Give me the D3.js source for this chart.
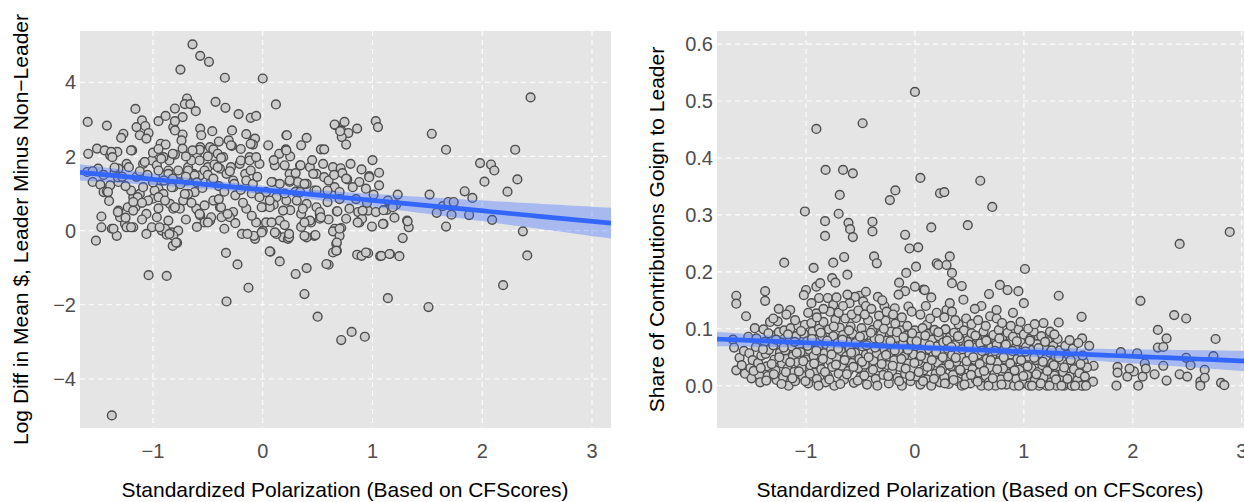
<!DOCTYPE html>
<html><head><meta charset="utf-8">
<script src="https://cdn.jsdelivr.net/npm/d3@7"></script>
<style>
body{margin:0;background:#fff;}
svg text{font-family:"Liberation Sans",Arial,Helvetica,sans-serif;}
</style>
</head><body>
<svg id="chart" width="1244" height="502"></svg>
<script>
// ---------- DATA ----------
const leftXTicks = [-1, 0, 1, 2, 3];
const leftYTicks = [-4, -2, 0, 2, 4];
const rightXTicks = [-1, 0, 1, 2, 3];
const rightYTicks = [0, 0.1, 0.2, 0.3, 0.4, 0.5, 0.6];
const leftXDomain = [-1.665, 3.173];
const leftYDomain = [-5.32, 5.38];
const rightXDomain = [-1.817, 3.03];
const rightYDomain = [-0.0743, 0.623];
// linear fits: [intercept, slope]
const leftFit = [1.099, -0.283];
const rightFit = [0.0675, -0.00796];
const xTitle = "Standardized Polarization (Based on CFScores)";
const leftYTitle = "Log Diff in Mean $, Leader Minus Non\u2212Leader";
const rightYTitle = "Share of Contributions Goign to Leader";

const leftPoints = [
[-1.595,2.93],[-1.59,2.07],[-1.42,2.83],[-1.16,3.28],[-1.27,2.61],[-1.29,2.5],[-1.15,2.79],[-1.10,2.97],[-1.07,2.82],[-1.04,2.63],[-1.12,2.57],[-1.06,2.48],[-0.95,2.95],[-0.885,3.09],[-0.80,3.29],[-0.75,4.34],[-0.73,3.06],[-0.69,3.56],[-0.71,3.41],[-0.66,3.41],[-0.61,3.22],[-0.64,5.02],[-0.57,4.71],[-0.49,4.55],[-0.345,4.12],[0.0,4.1],[-0.43,3.47],[-0.34,3.31],[-0.22,3.14],[-0.11,3.04],[-0.06,3.09],[0.12,3.40],
[-0.815,2.79],[-0.73,2.59],[-0.74,2.43],[-0.73,2.21],[-0.93,2.34],[-0.885,2.32],[-0.80,2.05],[-0.85,1.89],[-0.57,2.75],[-0.56,2.57],[-0.46,2.68],[-0.57,2.25],[-0.48,2.25],[-0.45,2.19],[-0.58,2.16],[-0.60,1.98],[-0.41,2.07],[-0.36,1.98],[-0.31,2.43],[-0.28,2.28],[-0.28,2.70],[-0.09,2.43],[-0.07,2.48],[-0.09,2.32],[0.15,2.07],[0.215,2.57],[0.21,2.19],[0.40,2.50],[0.53,2.19],[0.56,2.19],
[-1.51,2.21],[-1.44,2.16],[-1.37,2.10],[-1.325,2.12],[-1.39,2.03],[-1.19,2.16],[-1.24,1.80],[-1.22,1.71],[-1.315,1.67],[-1.50,1.67],[-1.60,1.58],[-1.55,1.31],[-1.48,1.24],[-1.45,1.04],[-1.42,1.06],[-1.39,1.22],[-1.315,1.31],[-1.09,1.80],[-1.01,1.89],[-0.965,1.76],[-0.905,1.98],[-0.86,1.62],[-0.905,1.49],[-0.755,1.53],[-0.68,1.71],[-0.63,1.53],[-0.57,1.49],[-0.50,1.71],[-0.44,1.78],[-0.39,1.67],[-0.33,1.53],[-0.27,1.35],[-0.21,1.80],[-0.16,1.53],[-0.12,1.98],[-0.03,1.80],[-0.15,1.35],[-0.09,1.26],[0.11,1.76],[0.20,1.76],[0.245,1.53],[0.34,1.76],[0.43,1.71],[0.49,1.53],[0.56,1.44],[0.09,1.31],[0.155,1.26],[0.245,1.31],[0.32,1.31],[0.40,1.26],[0.03,1.04],[0.125,0.90],[0.215,0.81],[0.31,0.81],[0.40,0.72],[0.49,0.63],[0.52,0.45],[0.44,0.22],[0.47,-0.14],[0.40,-0.18],[0.185,-0.18],[0.23,-0.22],[0.125,-0.09],[0.0,0.0],[-0.07,-0.22],[-0.19,-0.09],[-0.06,0.22],[0.0,0.63],[0.03,0.22],[0.155,0.27],[-0.27,0.50],[-0.30,0.36],[-0.375,0.36],[-0.39,0.63],[-0.45,0.81],[-0.48,0.27],[-0.59,0.54],[-0.57,0.41],[-0.53,0.22],[-0.69,0.95],[-0.725,0.81],[-0.755,0.59],[-0.845,0.72],[-0.815,0.59],[-0.86,0.27],[-0.965,0.36],[-1.01,0.09],[-1.06,-0.09],[-0.92,0.0],[-0.83,-0.05],[-0.77,0.0],[-0.815,-0.14],[-1.18,0.09],[-1.255,0.18],[-1.24,0.09],[-1.33,-0.14],[-1.375,0.05],[-1.47,0.09],[-1.47,0.38],[-1.315,0.54],[-1.30,0.36],[-1.52,-0.27],[-1.18,0.90],[-1.12,0.99],[-1.09,1.17],[-1.16,0.63],[-1.06,0.45],[-1.0,0.86],[-0.95,1.13],[-0.905,0.99],[-0.815,1.17],[-0.69,1.35],
[2.44,3.59],[1.54,2.61],[1.67,2.18],[2.30,2.18],[1.98,1.82],[2.08,1.78],[2.11,1.62],[2.02,1.32],[2.32,1.38],[2.23,1.05],[1.84,1.06],[1.91,0.88],[1.52,0.97],[1.64,0.66],[1.69,0.77],[1.74,0.77],[1.585,0.48],[1.72,0.43],[1.88,0.42],[2.09,0.29],[1.67,0.11],[2.37,-0.02],[0.66,2.84],[0.745,2.93],[0.715,2.70],[0.78,2.63],[0.72,2.52],[0.76,2.32],[0.86,2.75],[1.03,2.95],[1.05,2.79],[0.64,1.71],[0.71,1.68],[0.725,1.55],[0.77,1.38],[0.97,1.47],[1.06,1.56],[1.06,1.22],[0.88,1.31],[0.82,1.17],[0.94,1.13],[0.655,1.17],[0.70,1.04],[0.38,1.26],[0.47,1.08],[0.59,0.77],[0.675,0.52],[0.79,0.59],[0.87,0.50],[0.96,0.54],[1.03,0.50],[1.01,0.97],[1.14,0.81],[1.23,0.97],[1.215,0.70],[1.13,0.56],[0.76,0.32],[0.88,0.22],[0.905,0.32],[0.995,0.11],[1.10,0.18],[1.315,0.27],[1.33,0.09],[1.275,-0.20],[0.655,0.05],[0.715,0.07],[0.64,-0.02],[0.52,0.50],[0.52,0.32],[0.43,0.27],
[0.70,-0.14],[0.67,-0.36],[0.64,-0.59],[0.675,-0.54],[0.60,-0.92],[0.40,-1.01],[0.38,-1.71],[0.50,-2.32],[0.715,-2.95],[0.81,-2.73],[0.93,-2.86],[0.86,-0.65],[0.90,-0.68],[0.96,-0.61],[1.07,-0.69],[1.16,-0.63],[1.245,-0.69],[1.14,-1.82],[1.51,-2.06],[2.19,-1.47],[2.41,-0.67],
[-0.875,-0.11],[-0.82,-0.41],[-0.78,-0.33],[-1.04,-1.20],[-0.875,-1.22],[-1.375,-4.98],[-0.335,-0.60],[-0.23,-0.91],[-0.13,-1.54],[-0.33,-1.91],[0.07,-0.57],[0.155,-0.83],[0.30,-1.17],[0.58,-0.90],[-0.08,-0.14],[0.24,-0.18],
[-0.80,2.95],[-0.80,2.70],[-0.82,2.07],[-0.29,2.30],[-0.38,1.96],[-0.575,2.18],[-0.65,1.89],[-1.38,2.12],[-1.37,1.98],[-1.20,2.16],[-1.35,1.58],[-1.41,1.04],[-1.32,1.44],[-1.20,1.08],[-1.075,1.85],[-0.925,1.94],[-0.95,1.62],[-0.86,1.53],[-0.77,1.62],[-0.68,1.62],[-0.62,1.49],[-0.575,1.89],[-0.64,2.16],[-0.53,1.62],[-0.41,1.71],[-0.29,1.71],[-0.20,1.89],[-0.12,1.89],[-0.11,1.62],[-0.11,2.34],[-0.26,1.26],[-0.47,1.35],[-0.62,1.04],[-0.68,0.99],[-0.83,1.17],[-0.985,1.08],[-1.14,0.90],[-1.045,0.81],[-0.95,0.90],[-0.89,0.81],[-0.80,0.63],[-0.71,0.99],[-0.605,0.59],[-0.575,0.45],[-0.53,0.68],[-0.38,0.63],[-0.47,0.36],[-0.50,0.22],[-0.32,0.45],[-0.15,0.59],[-0.14,-0.09],[-0.89,0.05],[-0.79,-0.32],[-0.85,-0.09],[-0.94,0.09],[-1.20,0.09],[-1.36,0.05],[-1.32,0.50],[-1.23,0.63],[-1.18,0.77],[-1.18,0.54],
[-1.28,1.45],[-1.25,1.2],[-1.15,1.45],[-1.12,1.6],[-1.05,1.5],[-1.0,1.3],[-0.9,1.35],[-0.82,1.4],[-0.75,1.25],[-0.7,1.45],[-0.6,1.3],[-0.55,1.15],[-0.5,1.5],[-0.45,1.4],[-0.4,1.2],[-0.35,1.05],[-0.3,1.6],[-0.25,0.95],[-0.2,1.1],[-0.1,1.0],[-0.05,1.45],[-0.18,0.75],[-0.4,0.85],[-0.65,0.75],[-0.95,0.6],[-1.1,0.75],[-1.4,0.8],[-1.55,1.6],[-1.35,1.7],[-1.45,1.5],[-1.0,2.1],[-0.95,2.2],[-0.7,2.0],[-0.5,2.0],[-0.4,2.4],[-0.2,2.2],[-0.15,2.6],[0.05,2.3],[0.1,1.9],[0.25,2.0],[0.3,1.55],[0.35,2.3],[0.45,1.9],[0.55,1.8],[0.6,1.35],[0.65,1.5],[0.8,1.8],[0.9,1.65],[1.0,1.9],[0.3,1.05],[0.2,1.0],[0.1,0.7],[0.25,0.55],[0.35,0.45],[0.6,0.3],[0.7,0.85],[0.85,0.85],[0.95,0.75],[1.1,0.55],[1.2,0.35],[0.35,0.1],[0.2,0.15],[-0.1,0.4],[-0.25,0.2],[-0.35,0.05],[-0.6,0.1],[-0.7,0.3],[-1.1,0.3],[-1.25,0.35],
[0.22,2.57],[0.215,2.16],[0.655,2.86],[0.705,2.68],[-0.06,1.98],[0.345,1.76],[0.76,1.40],[0.97,1.44],[1.185,0.63],[1.32,0.25],[1.095,0.18],[0.91,0.54],[0.865,0.22],[0.68,0.52],[0.70,0.05],[0.675,-0.32],[0.67,-0.54],[0.94,-0.59],[1.08,-0.68],[1.155,-0.63],[0.064,-0.56],[0.48,-0.12],[0.38,-0.14],[0.24,-0.09],[0.11,-0.05],[-0.01,-0.05],[0.08,0.22],[0.38,0.22],[0.53,0.36],[0.365,0.59],[0.185,0.54],[0.064,0.63],[-0.01,0.63],[-0.03,0.90],[0.064,0.81],[0.34,1.04],[0.49,1.08],[0.59,1.08],[0.245,1.35],[0.08,1.31],[0.46,1.53]
];

const rightOutliers = [
[-0.905,0.451],[-0.48,0.461],[0.0,0.516],[-0.82,0.379],[-0.66,0.379],[-0.57,0.373],[0.05,0.365],[-0.69,0.335],[-0.18,0.343],[-0.23,0.326],[-1.01,0.306],[-0.70,0.302],[-0.825,0.289],[-0.61,0.286],[-0.595,0.275],[-0.39,0.288],[-0.39,0.271],[-0.825,0.263],[-0.57,0.261],[-0.09,0.265],[0.15,0.278],[0.03,0.243],[-0.05,0.241],[0.23,0.338],[0.60,0.360],[0.27,0.340],[0.71,0.314],[0.485,0.282],[2.43,0.249],[2.89,0.270],
[-1.20,0.216],[-0.93,0.207],[-0.75,0.216],[-0.65,0.226],[-0.375,0.227],[-0.35,0.215],[0.01,0.209],[-0.08,0.198],[-0.145,0.181],[-0.09,0.166],[0.0,0.174],[0.08,0.169],[0.20,0.215],[-1.64,0.158],[-1.64,0.144],[-1.375,0.166],[-1.375,0.149],[-1.55,0.122],[-1.145,0.133],[-1.0,0.168],[-1.02,0.159],[-0.905,0.174],[-0.87,0.180],[-0.88,0.154],[-0.80,0.154],[-0.76,0.189],[-0.73,0.181],[-0.62,0.195],[-0.75,0.142],[-0.51,0.158],[-0.34,0.156],[-0.06,0.139],[-0.78,0.13],[-0.905,0.127],[-0.55,0.156],[-0.475,0.148],[-0.185,0.136],[-0.45,0.14],[-0.28,0.14],[-0.6,0.145],
[0.215,0.212],[0.29,0.212],[0.32,0.227],[0.34,0.198],[0.34,0.180],[0.09,0.168],[0.445,0.151],[0.29,0.133],[0.32,0.145],[0.34,0.130],[0.11,0.107],[0.28,0.099],[0.40,0.108],[0.61,0.140],[0.68,0.161],[0.69,0.122],[0.75,0.133],[0.75,0.118],[0.78,0.177],[0.85,0.168],[0.95,0.166],[1.0,0.145],[1.01,0.205],[1.32,0.158],[1.32,0.111],[1.18,0.110],[1.53,0.121],[1.535,0.083],[1.60,0.070],[1.55,0.042],[1.64,0.035],[1.635,0.007],[1.545,0.0],[1.37,0.0],[1.45,0.0],
[2.07,0.149],[1.89,0.059],[1.86,0.033],[1.86,0.023],[1.85,0.0],[1.95,0.016],[2.01,0.025],[2.04,0.057],[2.09,0.016],[2.11,0.039],[2.23,0.098],[2.23,0.067],[2.28,0.068],[2.31,0.083],[2.28,0.035],[2.31,0.009],[2.38,0.124],[2.49,0.118],[2.49,0.049],[2.53,0.036],[2.43,0.020],[2.50,0.016],[2.62,0.007],[2.62,0.0],[2.66,0.028],[2.66,0.014],[2.74,0.052],[2.76,0.082],[2.81,0.005],[2.84,0.001],[2.12,0.03],[2.05,0.0],[1.97,0.03],[2.2,0.02]
];

const rightDense = [
[-1.67,0.081],[-1.66,0.067],[-1.64,0.027],[-1.61,0.049],[-1.59,0.036],[-1.57,0.061],[-1.56,0.021],[-1.53,0.086],[-1.52,0.057],[-1.51,0.031],[-1.5,0.013],[-1.49,0.045],[-1.47,0.101],[-1.46,0.068],[-1.44,0.04],[-1.43,0.019],[-1.42,0.006],[-1.41,0.053],[-1.39,0.099],[-1.38,0.077],[-1.37,0.056],[-1.36,0.034],[-1.35,0.017],[-1.34,0.063],[-1.33,0.112],[-1.31,0.088],[-1.3,0.071],[-1.29,0.046],[-1.28,0.027],[-1.27,0.01],[-1.26,0.113],[-1.25,0.094],[-1.24,0.058],[-1.23,0.076],[-1.22,0.039],[-1.21,0.015],[-1.2,0.097],[-1.19,0.062],[-1.18,0.047],[-1.17,0.03],[-1.16,0.0],[-1.15,0.083],[-1.14,0.101],[-1.13,0.069],[-1.12,0.052],[-1.11,0.024],[-1.1,0.008],[-1.09,0.087],[-1.08,0.041],[-1.07,0.105],[-1.06,0.072],[-1.05,0.059],[-1.04,0.031],[-1.03,0.017],[-1.02,0.091],[-1.01,0.107],[-1.0,0.046],[-0.99,0.078],[-0.98,0.004],[-0.97,0.063],[-0.96,0.036],[-0.95,0.11],[-0.94,0.095],[-0.93,0.052],[-0.92,0.023],[-0.91,0.081],[-0.9,0.012],[-0.89,0.068],[-0.88,0.1],[-0.87,0.041],[-0.86,0.029],[-0.85,0.086],[-0.84,0.112],[-0.83,0.057],[-0.82,0.006],[-0.81,0.072],[-0.8,0.017],[-0.79,0.099],[-0.78,0.044],[-0.77,0.064],[-0.76,0.033],[-0.75,0.087],[-0.74,0.0],[-0.73,0.116],[-0.72,0.049],[-0.71,0.075],[-0.7,0.021],[-0.69,0.102],[-0.68,0.061],[-0.67,0.035],[-0.66,0.089],[-0.65,0.011],[-0.64,0.118],[-0.63,0.052],[-0.62,0.077],[-0.61,0.026],[-0.6,0.066],[-0.59,0.104],[-0.58,0.04],[-0.57,0.091],[-0.56,0.005],[-0.55,0.058],[-0.54,0.119],[-0.53,0.079],[-0.52,0.031],[-0.51,0.047],[-0.5,0.015],[-0.49,0.101],[-0.48,0.069],[-0.47,0.088],[-0.46,0.037],[-0.45,0.055],[-0.44,0.002],[-0.43,0.115],[-0.42,0.074],[-0.41,0.024],[-0.4,0.062],[-0.39,0.098],[-0.38,0.044],[-0.37,0.083],[-0.36,0.012],[-0.35,0.057],[-0.34,0.107],[-0.33,0.032],[-0.32,0.071],[-0.31,0.09],[-0.3,0.049],[-0.29,0.019],[-0.28,0.064],[-0.27,0.114],[-0.26,0.079],[-0.25,0.036],[-0.24,0.004],[-0.23,0.058],[-0.22,0.095],[-0.21,0.026],[-0.2,0.07],[-0.19,0.045],[-0.18,0.109],[-0.17,0.084],[-0.16,0.014],[-0.15,0.061],[-0.14,0.033],[-0.13,0.097],[-0.12,0.0],[-0.11,0.074],[-0.1,0.051],[-0.09,0.021],[-0.08,0.088],[-0.07,0.105],[-0.06,0.039],[-0.05,0.066],[-0.04,0.008],[-0.03,0.079],[-0.02,0.029],[-0.01,0.055],[0.0,0.097],[0.01,0.016],[0.02,0.069],[0.03,0.043],[0.04,0.086],[0.05,0.002],[0.06,0.059],[0.07,0.101],[0.08,0.027],[0.09,0.076],[0.1,0.048],[0.11,0.011],[0.12,0.091],[0.13,0.064],[0.14,0.035],[0.15,0.0],[0.16,0.081],[0.17,0.053],[0.18,0.098],[0.19,0.021],[0.2,0.069],[0.21,0.04],[0.22,0.087],[0.23,0.006],[0.24,0.058],[0.25,0.03],[0.26,0.076],[0.27,0.015],[0.28,0.099],[0.29,0.046],[0.3,0.065],[0.31,0.003],[0.32,0.085],[0.33,0.034],[0.34,0.054],[0.35,0.019],[0.36,0.093],[0.37,0.071],[0.38,0.042],[0.39,0.008],[0.4,0.06],[0.41,0.083],[0.42,0.026],[0.43,0.0],[0.44,0.049],[0.45,0.097],[0.46,0.068],[0.47,0.014],[0.48,0.036],[0.49,0.08],[0.5,0.056],[0.51,0.004],[0.52,0.092],[0.53,0.029],[0.54,0.067],[0.55,0.045],[0.56,0.011],[0.57,0.084],[0.58,0.055],[0.59,0.023],[0.6,0.074],[0.61,0.0],[0.62,0.039],[0.63,0.095],[0.64,0.062],[0.65,0.017],[0.66,0.047],[0.67,0.081],[0.68,0.006],[0.69,0.032],[0.7,0.067],[0.71,0.052],[0.72,0.089],[0.73,0.02],[0.74,0.0],[0.75,0.072],[0.76,0.041],[0.77,0.098],[0.78,0.058],[0.79,0.011],[0.8,0.083],[0.81,0.03],[0.82,0.064],[0.83,0.046],[0.84,0.002],[0.85,0.093],[0.86,0.074],[0.87,0.021],[0.88,0.055],[0.89,0.037],[0.9,0.086],[0.91,0.0],[0.92,0.066],[0.93,0.012],[0.94,0.047],[0.95,0.099],[0.96,0.028],[0.97,0.077],[0.98,0.058],[0.99,0.004],[1.0,0.09],[1.01,0.039],[1.02,0.068],[1.03,0.019],[1.04,0.051],[1.05,0.0],[1.06,0.083],[1.07,0.031],[1.08,0.063],[1.09,0.095],[1.1,0.009],[1.11,0.045],[1.12,0.073],[1.13,0.024],[1.14,0.0],[1.15,0.057],[1.16,0.087],[1.17,0.036],[1.18,0.015],[1.19,0.066],[1.2,0.047],[1.21,0.0],[1.22,0.078],[1.23,0.027],[1.24,0.058],[1.25,0.006],[1.26,0.04],[1.27,0.07],[1.28,0.018],[1.29,0.052],[1.3,0.0],[1.31,0.082],[1.32,0.034],[1.33,0.062],[1.34,0.01],[1.35,0.045],[1.36,0.024],[1.38,0.07],[1.39,0.004],[1.4,0.038],[1.41,0.055],[1.42,0.016],[1.44,0.0],[1.45,0.065],[1.46,0.029],[1.48,0.047],[1.49,0.009],[1.5,0.075],[1.51,0.022],[1.53,0.0],[1.54,0.053],[1.56,0.016],[1.58,0.032],
[-1.48,0.026],[-1.455,0.083],[-1.415,0.031],[-1.395,0.064],[-1.365,0.009],[-1.345,0.092],[-1.315,0.038],[-1.295,0.02],[-1.275,0.081],[-1.245,0.05],[-1.225,0.003],[-1.205,0.067],[-1.185,0.024],[-1.165,0.09],[-1.145,0.041],[-1.125,0.013],[-1.105,0.077],[-1.085,0.058],[-1.065,0.025],[-1.045,0.096],[-1.025,0.043],[-1.005,0.008],[-0.985,0.07],[-0.965,0.021],[-0.945,0.082],[-0.925,0.039],[-0.905,0.062],[-0.885,0.0],[-0.865,0.093],[-0.845,0.047],[-0.825,0.024],[-0.805,0.079],[-0.785,0.011],[-0.765,0.055],[-0.745,0.104],[-0.725,0.037],[-0.705,0.065],[-0.685,0.003],[-0.665,0.081],[-0.645,0.045],[-0.625,0.02],[-0.605,0.097],[-0.585,0.058],[-0.565,0.033],[-0.545,0.075],[-0.525,0.009],[-0.505,0.086],[-0.485,0.042],[-0.465,0.018],[-0.445,0.071],[-0.425,0.05],[-0.405,0.093],[-0.385,0.028],[-0.365,0.067],[-0.345,0.0],[-0.325,0.082],[-0.305,0.038],[-0.285,0.1],[-0.265,0.054],[-0.245,0.017],[-0.225,0.078],[-0.205,0.035],[-0.185,0.062],[-0.165,0.094],[-0.145,0.008],[-0.125,0.047],[-0.105,0.085],[-0.085,0.03],[-0.065,0.063],[-0.045,0.017],[-0.025,0.092],[-0.005,0.04],[0.015,0.078],[0.035,0.024],[0.055,0.052],[0.075,0.008],[0.095,0.088],[0.115,0.033],[0.135,0.071],[0.155,0.045],[0.175,0.012],[0.195,0.059],[0.215,0.094],[0.235,0.026],[0.255,0.05],[0.275,0.004],[0.295,0.079],[0.315,0.037],[0.335,0.068],[0.355,0.01],[0.375,0.049],[0.395,0.087],[0.415,0.028],[0.435,0.064],[0.455,0.002],[0.475,0.043],[0.495,0.072],[0.515,0.019],[0.535,0.05],[0.555,0.088],[0.575,0.007],[0.595,0.038],[0.615,0.061],[0.635,0.026],[0.655,0.079],[0.675,0.0],[0.695,0.045],[0.715,0.013],[0.735,0.061],[0.755,0.029],[0.775,0.083],[0.795,0.002],[0.815,0.05],[0.835,0.072],[0.855,0.016],[0.875,0.039],[0.895,0.061],[0.915,0.027],[0.935,0.078],[0.955,0.0],[0.975,0.045],[0.995,0.017],[1.015,0.06],[1.035,0.034],[1.055,0.079],[1.075,0.0],[1.095,0.049],[1.115,0.02],[1.135,0.066],[1.155,0.004],[1.175,0.042],[1.195,0.077],[1.215,0.026],[1.235,0.0],[1.255,0.062],[1.275,0.036],[1.295,0.011],[1.32,0.05],[1.345,0.0],[1.37,0.032],[1.4,0.012],[1.43,0.045],[1.47,0.0],[1.52,0.038],[1.57,0.0],
[-1.3,0.118],[-1.18,0.125],[-1.1,0.115],[-0.98,0.128],[-0.9,0.12],[-0.84,0.135],[-0.7,0.128],[-0.66,0.14],[-0.58,0.125],[-0.52,0.132],[-0.46,0.125],[-0.4,0.135],[-0.33,0.123],[-0.26,0.13],[-0.2,0.125],[-0.12,0.12],[-0.03,0.13],[0.05,0.125],[0.14,0.118],[0.2,0.128],[0.27,0.12],[0.37,0.115],[0.47,0.118],[0.52,0.108],[0.58,0.115],[0.65,0.105],[0.8,0.11],[0.88,0.105],[0.97,0.112],[1.04,0.1],[1.1,0.108],[1.24,0.095],[1.28,0.09],[1.42,0.08],[-0.62,0.16],[-0.45,0.165],[-0.3,0.15],[-0.15,0.16],[0.15,0.155],[0.43,0.175],[-0.95,0.145],[-1.25,0.135],[0.55,0.135],[0.9,0.128],[0.1,0.14],[-0.72,0.155]
];
const rightPoints = rightOutliers.concat(rightDense);

// ---------- DRAW ----------
const svg = d3.select("#chart");
const PANEL_BG = "#e5e5e5";
const FILL = "#cccccc", STROKE = "#4d4d4d";
const BLUE = "#3366ff";

// line from the read coefficients, 95% band from the points' spread around it
function lmBand(pts, coef){
  const [a, b] = coef;
  const n = pts.length;
  const mx = d3.mean(pts, d => d[0]);
  let sxx = 0, ss = 0;
  pts.forEach(d => { sxx += (d[0]-mx)**2; ss += (d[1] - a - b*d[0])**2; });
  const s = Math.sqrt(ss/(n-2));
  const t = 1.966;
  return x => { const f = a + b*x; const se = s*Math.sqrt(1/n + (x-mx)**2/sxx); return [f, f - t*se, f + t*se]; };
}

function drawPanel(o){
  const g = svg.append("g");
  const x = d3.scaleLinear().domain(o.xDomain).range([o.left, o.right]);
  const y = d3.scaleLinear().domain(o.yDomain).range([o.bottom, o.top]);
  const clipId = "clip" + o.id;
  svg.append("clipPath").attr("id", clipId).append("rect")
    .attr("x", o.left).attr("y", o.top).attr("width", o.right-o.left).attr("height", o.bottom-o.top);
  g.append("rect").attr("x", o.left).attr("y", o.top).attr("width", o.right-o.left).attr("height", o.bottom-o.top).attr("fill", PANEL_BG);
  const inner = g.append("g").attr("clip-path", `url(#${clipId})`);
  inner.selectAll(".gx").data(o.xTicks).enter().append("line")
    .attr("x1", d => x(d)).attr("x2", d => x(d)).attr("y1", o.top).attr("y2", o.bottom)
    .attr("stroke", "#fff").attr("stroke-width", 1.1).attr("stroke-dasharray", "5,4");
  inner.selectAll(".gy").data(o.yTicks).enter().append("line")
    .attr("x1", o.left).attr("x2", o.right).attr("y1", d => y(d)).attr("y2", d => y(d))
    .attr("stroke", "#fff").attr("stroke-width", 1.1).attr("stroke-dasharray", "5,4");
  inner.selectAll(".pt").data(o.points).enter().append("circle")
    .attr("cx", d => x(d[0])).attr("cy", d => y(d[1])).attr("r", 4.4)
    .attr("fill", FILL).attr("stroke", STROKE).attr("stroke-width", 1.4);
  const f = lmBand(o.points, o.fit);
  const xs = d3.range(0, 101).map(i => o.xDomain[0] + (o.xDomain[1]-o.xDomain[0])*i/100);
  const fitted = xs.map(v => [v, ...f(v)]);
  inner.append("path").datum(fitted)
    .attr("d", d3.area().x(d => x(d[0])).y0(d => y(d[2])).y1(d => y(d[3])))
    .attr("fill", BLUE).attr("fill-opacity", 0.35);
  inner.append("path").datum(fitted)
    .attr("d", d3.line().x(d => x(d[0])).y(d => y(d[1])))
    .attr("fill", "none").attr("stroke", BLUE).attr("stroke-width", 4.7);
  g.selectAll(".tx").data(o.xTicks).enter().append("text")
    .attr("x", d => x(d)).attr("y", 458).attr("text-anchor", "middle")
    .attr("font-size", 20).attr("fill", "#4d4d4d")
    .text(d => d3.format("")(d).replace("-", "\u2212"));
  g.selectAll(".ty").data(o.yTicks).enter().append("text")
    .attr("x", o.left - 4).attr("y", d => y(d)).attr("dy", "0.36em").attr("text-anchor", "end")
    .attr("font-size", 20).attr("fill", "#4d4d4d")
    .text(d => o.yFmt(d).replace("-", "\u2212"));
  g.append("text").attr("x", o.xTitleX).attr("y", 497).attr("text-anchor", "middle")
    .attr("font-size", 21).attr("fill", "#000").text(xTitle);
  g.append("text").attr("transform", `translate(${o.yTitleX},${(o.top+o.bottom)/2}) rotate(-90)`)
    .attr("text-anchor", "middle").attr("font-size", 21).attr("fill", "#000").text(o.yTitle);
}

drawPanel({id:"L", left:80, right:611, top:31, bottom:428, xDomain:leftXDomain, yDomain:leftYDomain,
  xTicks:leftXTicks, yTicks:leftYTicks, points:leftPoints, fit:leftFit, yFmt:d3.format("d"),
  xTitleX:345, yTitleX:28, yTitle:leftYTitle});
drawPanel({id:"R", left:717, right:1245, top:31, bottom:428, xDomain:rightXDomain, yDomain:rightYDomain,
  xTicks:rightXTicks, yTicks:rightYTicks, points:rightPoints, fit:rightFit, yFmt:d3.format(".1f"),
  xTitleX:980, yTitleX:664, yTitle:rightYTitle});
</script>
</body></html>
